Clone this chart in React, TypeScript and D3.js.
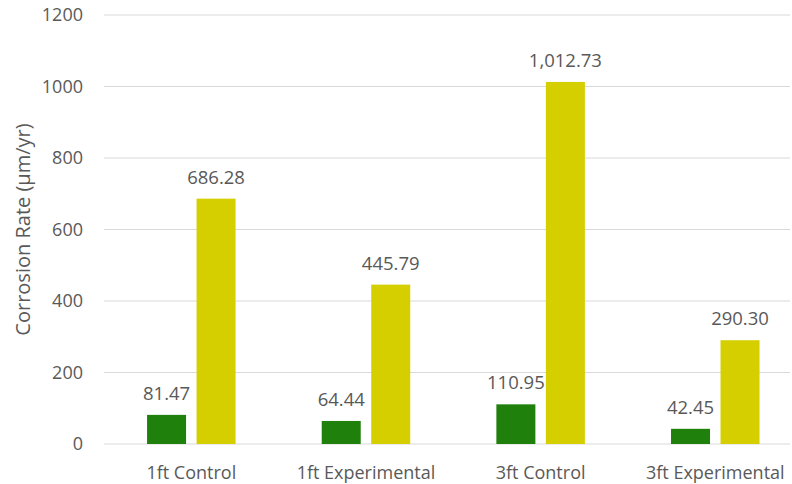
import React from "react";
import * as d3 from "d3";

const categories = ["1ft Control", "1ft Experimental", "3ft Control", "3ft Experimental"];
const seriesA = [81.47, 64.44, 110.95, 42.45];
const seriesB = [686.28, 445.79, 1012.73, 290.3];
const yTicks = [0, 200, 400, 600, 800, 1000, 1200];
const colors = ["#1f800b", "#d5cf00"];

const W = 792, H = 484;
const left = 104, right = 790, bandRight = 802.6, top = 15, bottom = 444;
const FONT = "'Open Sans', sans-serif";

export default function App() {
  const x = d3.scaleBand<string>().domain(categories).range([left, bandRight]).padding(0);
  const y = d3.scaleLinear().domain([0, 1200]).range([bottom, top]);
  const barW = 39;
  const gap = 10.5;
  const fmt = d3.format(",.2f");
  const series = [seriesA, seriesB];
  return (
    <svg width={W} height={H} style={{ position: "absolute", left: 0, top: 0 }}>
      <rect width={W} height={H} fill="#fff" />
      {yTicks.map((t) => (
        <g key={t}>
          <line x1={left} x2={right} y1={y(t)} y2={y(t)} stroke="#d9d9d9" strokeWidth={1} />
          <text x={83} y={y(t)} dy="0.35em" textAnchor="end" fontFamily={FONT} fontSize={18} fill="#595959">{t}</text>
        </g>
      ))}
      <text transform={`translate(23,${(top + bottom) / 2}) rotate(-90)`} dy="0.35em" textAnchor="middle" fontFamily={FONT} fontSize={20} fill="#595959">Corrosion Rate (µm/yr)</text>
      {categories.map((c, i) => {
        const cx = (x(c) as number) + x.bandwidth() / 2;
        return (
          <g key={c}>
            {series.map((s, j) => {
              const bx = j === 0 ? cx - gap / 2 - barW : cx + gap / 2;
              return (
                <g key={j}>
                  <rect x={bx} y={y(s[i])} width={barW} height={bottom - y(s[i])} fill={colors[j]} />
                  <text x={bx + barW / 2} y={y(s[i]) - 15} textAnchor="middle" fontFamily={FONT} fontSize={18.5} fill="#595959">{fmt(s[i])}</text>
                </g>
              );
            })}
            <text x={cx} y={479} textAnchor="middle" fontFamily={FONT} fontSize={18} fill="#595959">{c}</text>
          </g>
        );
      })}
    </svg>
  );
}
